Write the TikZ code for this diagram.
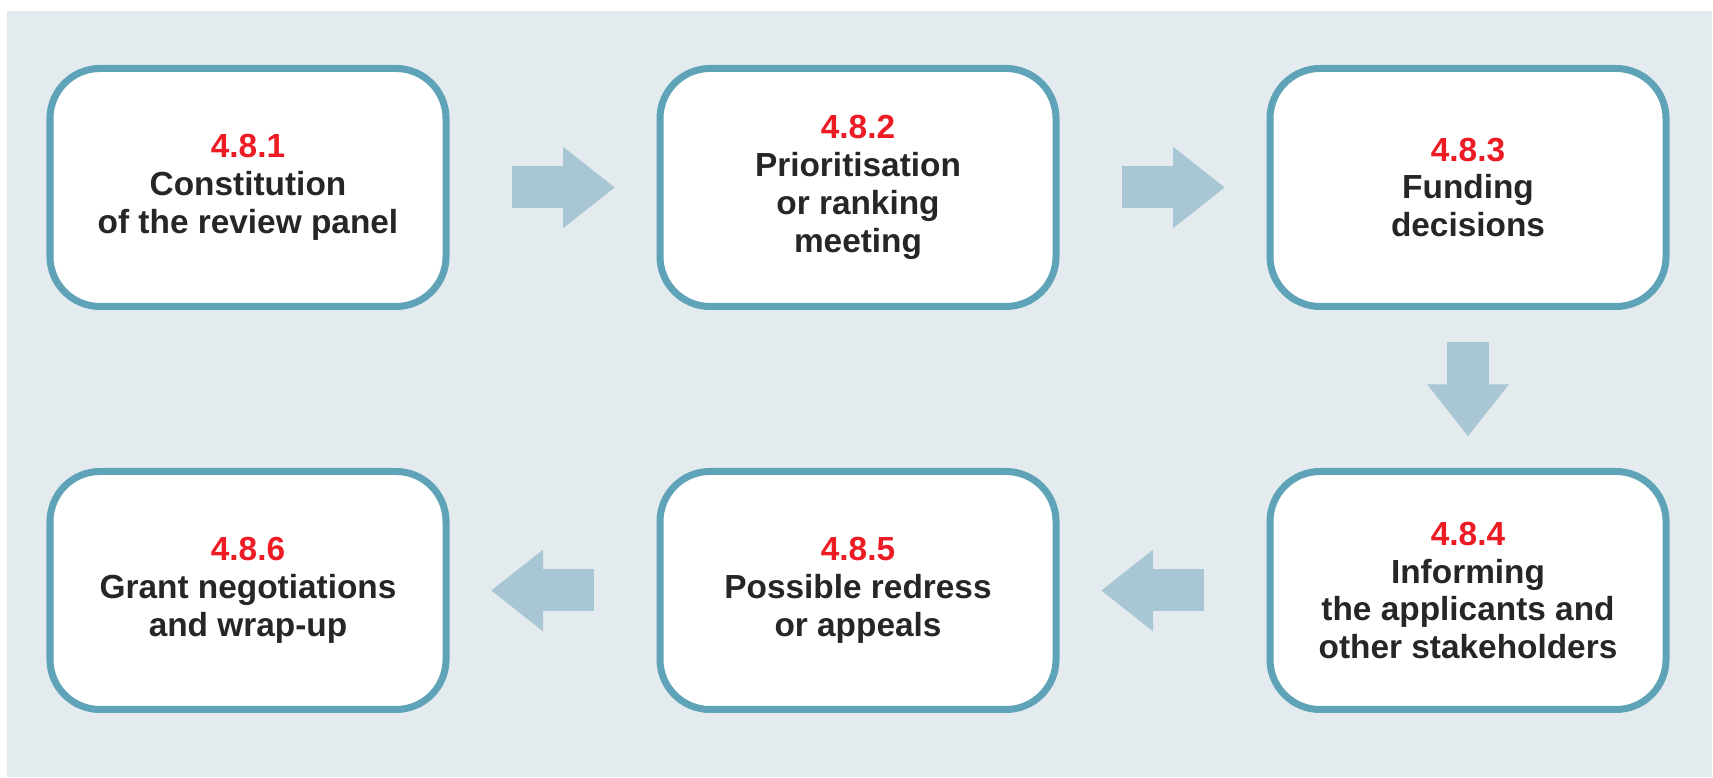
\documentclass[tikz,border=0pt]{standalone}
\usepackage{fontspec}
\setmainfont{Liberation Sans}
\usepackage{xcolor}
\usepackage{tikz}
\usetikzlibrary{arrows.meta, positioning}
\definecolor{panelbg}{RGB}{228,235,239}
\definecolor{frame}{RGB}{94,163,184}
\definecolor{flowfill}{RGB}{168,198,211}
\definecolor{secno}{RGB}{237,28,36}
\definecolor{dark}{RGB}{38,38,38}
\tikzset{
    stage/.style={rectangle, rounded corners=0.5cm, minimum width=3.96cm, minimum height=2.38cm, text centered, draw=frame, line width=0.07cm, fill=white, align=center, outer sep=0pt, text=dark, font=\bfseries\fontsize{9.5pt}{10.8pt}\selectfont},
    flow/.style={-{Triangle[length=0.52cm, width=0.78cm]}, line width=0.42cm, draw=flowfill, fill=flowfill, shorten <=0.66cm, shorten >=0.45cm}
}

\begin{document}
\begin{tikzpicture}[
    node distance=1.65cm and 2.14cm
]
    % Background panel
    \useasboundingbox (0,0) rectangle (17.13,7.77);
    \fill[panelbg] (0.07,0) rectangle (17.12,7.66);

    % Steps, top row
    \node[stage] (panel) at (2.48,5.895) {\textcolor{secno}{4.8.1}\\Constitution\\of the review panel};
    \node[stage, right=of panel] (rank) {\textcolor{secno}{4.8.2}\\Prioritisation\\or ranking\\meeting};
    \node[stage, right=of rank] (fund) {\textcolor{secno}{4.8.3}\\Funding\\decisions};

    % Steps, bottom row
    \node[stage, below=of fund] (inform) {\textcolor{secno}{4.8.4}\\Informing\\the applicants and\\other stakeholders};
    \node[stage, left=of inform] (redress) {\textcolor{secno}{4.8.5}\\Possible redress\\or appeals};
    \node[stage, left=of redress] (grant) {\textcolor{secno}{4.8.6}\\Grant negotiations\\and wrap-up};

    % Flow arrows
    \draw[flow] (panel) -- (rank);
    \draw[flow] (rank) -- (fund);
    \draw[flow, shorten <=0.36cm, shorten >=0.35cm] (fund) -- (inform);
    \draw[flow] (inform) -- (redress);
    \draw[flow] (redress) -- (grant);
\end{tikzpicture}
\end{document}
